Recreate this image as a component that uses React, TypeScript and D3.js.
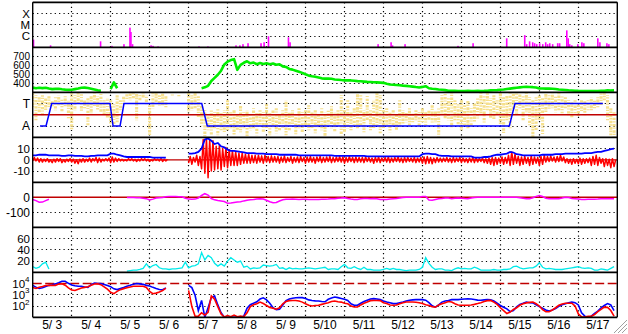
import React from "react";
import * as d3 from "d3";

const N = null;
const SLOT_HOURS = 2;
const TOTAL_HOURS = 360;

const dayLabels = ["5/ 3", "5/ 4", "5/ 5", "5/ 6", "5/ 7", "5/ 8", "5/ 9", "5/10", "5/11", "5/12", "5/13", "5/14", "5/15", "5/16", "5/17"];

// Panel 1: X-ray flare peaks (hours from 5/3 00:00, flux W/m2)
const flareHours = [0.5, 11.0, 41.8, 48.8, 56.2, 59.9, 60.5, 61.5, 72.9, 74.1, 77.2, 102.4, 107.9, 125.2, 127.6, 129.5, 132.6, 140.6, 142.5, 145.2, 157.5, 158.5, 212.7, 220.7, 221.6, 229.3, 261.9, 271.2, 291.9, 303.0, 304.2, 306.0, 307.9, 309.1, 310.4, 312.2, 314.1, 315.9, 317.1, 318.4, 320.2, 323.3, 324.5, 328.9, 329.8, 330.7, 332.0, 335.7, 338.2, 339.4, 348.0, 349.3, 353.6, 354.8];
const flareFlux = [4.8e-7, 1.5e-7, 3.4e-7, 1.35e-7, 1.9e-7, 5.6e-6, 2.3e-6, 1.9e-7, 1.5e-7, 1.35e-7, 1.2e-7, 1.2e-7, 1.2e-7, 1.5e-7, 1.5e-7, 1.9e-7, 2.3e-7, 2.3e-7, 2.8e-7, 9.5e-7, 7.8e-7, 2.8e-7, 1.9e-7, 2.8e-7, 1.5e-7, 1.9e-7, 1.35e-7, 2.3e-7, 6.3e-7, 1.2e-6, 1.9e-7, 3.4e-7, 2.8e-7, 2.3e-7, 1.9e-7, 2.3e-7, 1.9e-7, 2.8e-7, 1.9e-7, 2.3e-7, 1.9e-7, 2.3e-7, 2.3e-7, 3.2e-6, 6.3e-7, 1.9e-7, 1.5e-7, 1.9e-7, 2.8e-7, 2.3e-7, 6.3e-7, 2.8e-7, 2.3e-7, 1.9e-7];
const xrayTickLabels = ["X", "M", "C"];
const xrayTickValues = [1e-4, 1e-5, 1e-6];

// Panel 2: solar wind speed (km/s), 2-hour slots
const windSpeed = [
  352, 345, 350, 346, 351, 342, 335, 338, 340, 334,
  330, 327, 328, 335, 342, 350, 352, 348, 340, 332,
  322, 318, N, N, 335, 410, 345, N, N, N,
  N, N, N, N, N, N, N, N, N, N,
  N, N, N, N, N, N, N, N, N, N,
  N, N, 345, 355, 372, 425, 460, 495, 540, 610,
  640, 658, 668, 550, 605, 628, 645, 622, 630, 612,
  625, 614, 622, 612, 620, 606, 612, 588, 582, 560,
  552, 540, 528, 516, 500, 485, 478, 473, 465, 455,
  452, 452, 450, 443, 440, 436, 433, 433, 432, 428,
  424, 422, 419, 416, 415, 412, 410, 408, 405, 395,
  386, 384, 381, 378, 374, 371, 367, 363, 358, 354,
  360, 368, 345, 340, 336, 331, 328, 324, 318, 316,
  316, 315, 315, 315, 316, 315, 315, 316, 315, 316,
  318, 321, 322, 324, 328, 331, 336, 341, 346, 351,
  355, 359, 360, 359, 357, 353, 343, 342, 341, 341,
  340, 336, 331, 329, 326, 322, 320, 318, 316, 315,
  315, 314, 315, 315, 315, 317, 318, 321, 320, 321,
];
const speedTicks = [700, 600, 500, 400];

// Panel 3: IMF angle spread (deg, lo/hi per slot) and sector polarity
const imfAngleLo = [
  8, 24, 40, 24, 48, 32, 64, 40, 24, 56,
  32, 64, 8, 24, 0, 16, 64, 48, 24, 0,
  32, 8, 64, 48, 64, 96, 24, 64, 32, 16,
  0, 8, 0, 16, 0, 24, 104, 8, 8, 24,
  8, 32, N, 16, N, 16, N, N, 8, 24,
  8, 32, 104, 144, 184, 144, 160, 128, 168, 144,
  64, 160, 144, 184, 104, 160, 144, 176, 128, 160,
  144, 160, 96, 168, 144, 128, 176, 144, 64, 160,
  144, 168, 128, 160, 144, 104, 160, 144, 168, 128,
  160, 144, 112, 160, 144, 24, 144, 64, 160, 128,
  8, 24, 144, 24, 144, 64, 8, 24, 144, 128,
  160, 144, 168, 64, 144, 160, 128, 168, 144, 160,
  128, 160, 144, 104, 144, 128, 24, 8, 48, 8,
  64, 96, 64, 104, 64, 128, 80, 48, 8, 24,
  8, 48, 24, 64, 8, 40, 24, 8, 0, 8,
  0, 24, 0, 40, 64, 40, 24, 48, 8, 24,
  8, 32, 8, 24, 40, 64, 80, 64, 96, 64,
  64, 64, 40, 64, 40, 0, 8, 24, 128, 160,
];
const imfAngleHi = [
  120, 224, 160, 184, 144, 128, 112, 144, 104, 160,
  112, 208, 304, 144, 96, 160, 128, 264, 168, 112,
  144, 160, 184, 208, 264, 288, 240, 144, 96, 64,
  64, 48, 224, 64, 48, 104, 344, 128, 96, 112,
  104, 128, N, 40, N, 40, N, N, 160, 144,
  128, 200, 264, 360, 304, 344, 288, 344, 304, 328,
  304, 288, 344, 304, 320, 288, 352, 304, 288, 344,
  272, 320, 288, 344, 280, 328, 304, 288, 344, 304,
  272, 336, 288, 320, 264, 304, 288, 328, 280, 304,
  352, 272, 288, 320, 264, 344, 320, 288, 304, 272,
  288, 264, 320, 224, 304, 288, 264, 328, 288, 272,
  320, 264, 304, 288, 256, 240, 264, 248, 224, 272,
  240, 264, 224, 256, 240, 360, 184, 208, 224, 280,
  224, 264, 304, 264, 288, 272, 240, 224, 184, 248,
  144, 208, 224, 184, 264, 328, 224, 288, 144, 184,
  128, 224, 160, 264, 360, 304, 224, 344, 168, 144,
  128, 160, 144, 168, 128, 184, 200, 168, 200, 160,
  184, 144, 144, 128, 120, 104, 64, 224, 344, 360,
];
const sectorHours = [4.5, 8.2, 11.7, 47.6, 49.5, 53.8, 56.2, 104.1, 107.5, 293.5, 297.0, 351.1];
const sectorPolarity = [-1, -1, 1, 1, -1, -1, 1, 1, -1, -1, 1, 1];
const sectorTickLabels = ["T", "A"];
const sectorTickAngles = [90, 270];

// Panel 4: IMF Bt (blue) and Bz range (red), nT
const imfBt = [
  4, 4, 4.5, 4.5, 4.5, 4, 4, 4, 4, 3.5,
  3.5, 4, 4, 3.5, 3.5, 3.5, 3, 3, 3.5, 3.5,
  4, 4, 4, 4, 5.5, 5.5, 4.5, 4, 3, 2.5,
  2.5, 2.5, 2.5, 2.5, 2.5, 2.5, 2.5, 2, 2, 2,
  2, 2, N, N, N, N, N, N, 5.5, 5.5,
  6, 7, 10, 18, 19, 17, 14, 15, 12, 11,
  9, 8, 8, 7.5, 7, 6.5, 6, 6, 6, 5.5,
  5.5, 5.5, 5, 5, 5, 5, 4.5, 4.5, 4.5, 4.5,
  4.5, 4.5, 4, 4, 4, 4, 4, 4, 4, 4,
  4, 4, 4, 3.5, 3.5, 3.5, 3.5, 3.5, 3.5, 3.5,
  3.5, 3.5, 3.5, 3, 3, 3, 3, 3, 3, 3,
  3, 3, 3, 3, 3, 3, 3, 3, 3, 3,
  5, 5.5, 5.5, 5, 5, 4, 3.5, 3.5, 3.5, 3,
  3, 3, 3, 3, 3, 3, 2, 2, 2, 2.5,
  2.5, 3, 4, 4.5, 4.5, 5, 5.5, 7, 6.5, 5,
  4.5, 4, 4, 4, 4, 4, 4, 4.5, 4.5, 4.5,
  4.5, 5, 5, 5, 5.5, 5.5, 5.5, 5.5, 5.5, 5.5,
  6, 6, 6, 6.5, 7, 7, 8, 8.5, 9.5, 10,
];
const imfBzLo = [
  -1, -1, -2, -2, -1.5, -2, -2.5, -2, -1.5, -2.5,
  -2, -1.5, -2, -3, -3.5, -2, -2, -1.5, -2, -1,
  -2.5, -2, -1, -1, -2.5, -2, -1.5, -1, -1, -1,
  -0.5, -1, -1.5, -1, -0.5, -1, -1.5, -1, -0.5, -1,
  -1.5, -1, N, N, N, N, N, N, -3, -4,
  -2, -5, -8, -12, -16, -10, -9, -8, -9, -6,
  -7, -5, -5, -5, -4, -3, -3, -3, -2.5, -3,
  -2, -3, -2, -2.5, -2, -2, -3, -2, -2.5, -1.5,
  -3, -2, -2.5, -1.5, -3, -2, -2, -3, -1.5, -2.5,
  -2, -1.5, -2.5, -2, -1.5, -2, -3, -2, -1.5, -2.5,
  -2, -2, -2.5, -1.5, -2, -3, -2, -2.5, -1.5, -2,
  -2.5, -2, -1.5, -2, -2.5, -2, -1.5, -2, -2.5, -2,
  -3, -3.5, -3, -3.5, -2.5, -2, -2, -1.5, -2, -2.5,
  -2, -1.5, -2.5, -2, -2.5, -2, -2.5, -2, -1.5, -2.5,
  -3, -4, -5, -4, -3, -4, -3, -5, -4, -3,
  -5, -4, -3, -5, -4, -3, -5, -4, -2, -1.5,
  -1, -2, -1.5, -1, -2.5, -3, -4, -3, -3.5, -4,
  -3, -2.5, -5, -4, -5, -3, -6, -5, -7, -6,
];
const imfBzHi = [
  2, 1.5, 1, 0.5, 1, 0, 0.5, 1, 1, 0,
  0.5, 1, 0.5, 0, 0.5, 1, 0.5, 1.5, 1, 2,
  1.5, 0.5, 1, 1.5, 2.5, 1.5, 1, 0.5, 0, 1,
  1, 0.5, 0.5, 1, 1, 0.5, 0, 1, 0.5, 1,
  0.5, 0.5, N, N, N, N, N, N, 3, 2,
  4, 3, 18, 19, 18, 17, 12, 13, 10, 11,
  9, 8, 7, 6, 6, 5, 5, 4, 4, 4,
  3.5, 4, 3, 3.5, 3, 3, 2.5, 3.5, 2, 3,
  2, 2.5, 3, 2, 2.5, 3, 2, 2.5, 3, 2,
  2.5, 3, 2, 2.5, 3, 2.5, 2, 3, 2, 2.5,
  2, 2, 2.5, 2, 1.5, 2, 2.5, 1.5, 2, 2.5,
  1.5, 2, 2.5, 1.5, 2, 2, 1.5, 2, 1.5, 2,
  2.5, 3, 2, 1.5, 2, 1.5, 1.5, 2, 1.5, 2,
  1.5, 2, 1.5, 1, 1.5, 2, 1.5, 1, 1.5, 1,
  1.5, 2, 2, 1.5, 2.5, 2, 4, 7, 5, 3,
  2.5, 3, 2, 3.5, 2.5, 2, 3, 4, 3, 3.5,
  2.5, 3, 4, 2.5, 1, 0.5, 1, 0.5, 1.5, 1,
  1, 1.5, 3, 4, 2, 1, 1, 0.5, 1, 0,
];
const bzTicks = [10, 0, -10];

// Panel 5: Dst (nT)
const dstIndex = [
  -15, -22, -33, -32, -22, -13, N, N, N, N,
  N, N, N, N, N, N, N, N, N, N,
  N, N, N, N, N, N, N, N, N, -2,
  -2, -2, -3, -3, -6, -9, -18, -12, -5, -3,
  -2, 3, 6, 6, 5, 4, 3, -6, -12, -13,
  -12, -5, 12, 24, 15, -8, -17, -21, -24, -28,
  -40, -38, -34, -32, -30, -24, -19, -17, -15, -12,
  -9, -12, -20, -30, -36, -35, -25, -17, -13, -13,
  -12, -13, -14, -13, -13, -14, -15, -15, -14, -13,
  -13, -12, -10, -9, -6, -5, -3, -8, -12, -14,
  -14, -10, -8, -8, -9, -8, -10, -14, -15, -15,
  -12, -9, -8, -5, -2, 0, 0, 0, 0, 1,
  5, 6, -18, -20, -15, -10, -8, -5, -5, -9,
  -6, -4, -6, -8, -9, -5, -1, 0, 1, 1,
  1, 0, 1, 0, 1, 0, 0, 0, 0, 0,
  -3, -6, -9, -10, -3, 6, 12, 5, -6, -10,
  -10, -10, -9, -5, 0, -2, -8, -10, -12, -15,
  -14, -13, -13, -13, -12, -10, -9, -10, -9, -9,
];
const dstTicks = [0, -100];

// Panel 6: proton density (/cc)
const density = [
  10, 7, 9, 15, 18, 6, N, N, N, N,
  N, N, N, N, N, N, N, N, N, N,
  N, N, N, N, N, N, N, N, N, 2,
  3, 4, 4, 5, 7, 15, 8, 12, 14, 8,
  6, 6, 5, 6, 6, 7, 8, 18, 8, 11,
  12, 15, 35, 22, 30, 26, 16, 11, 15, 11,
  20, 26, 22, 18, 20, 9, 11, 6, 8, 7,
  8, 13, 12, 11, 12, 14, 7, 8, 5, 8,
  6, 7, 6, 6, 7, 8, 7, 6, 7, 8,
  9, 5, 6, 6, 5, 10, 14, 8, 7, 10,
  7, 5, 9, 5, 5, 4, 4, 4, 5, 7,
  5, 7, 5, 5, 4, 3, 4, 4, 4, 5,
  9, 26, 16, 9, 5, 6, 6, 4, 4, 3,
  6, 8, 6, 7, 6, 6, 9, 7, 4, 4,
  4, 4, 5, 4, 4, 5, 5, 6, 10, 11,
  8, 6, 7, 8, 8, 11, 17, 9, 6, 7,
  6, 5, 5, 5, 6, 7, 8, 9, 10, 8,
  7, 8, 7, 4, 4, 6, 5, 4, 7, 10,
];
const densityTicks = [60, 40, 20];

// Panel 7: electron flux, log10 (blue / red)
const electronLogBlue = [
  3.84, 3.68, 3.56, 3.62, 3.74, 3.84, 3.9, 3.97, 4.08, 4.2,
  4.2, 4.02, 3.88, 3.8, 3.76, 3.76, 3.7, 3.66, 3.9, 4.05,
  4.0, 4.0, 3.92, 3.82, 3.72, 3.53, 3.46, 3.55, 3.64, 3.76,
  3.84, 3.93, 4.0, 3.97, 3.93, 3.84, 3.78, 3.66, 3.56, 3.47,
  3.45, 3.6, N, N, N, N, N, N, 3.84, 3.64,
  2.96, 1.6, 2.5, 1.0, 1.85, 2.75, 2.9, 2.1, 1.4, 1.0,
  1.0, 1.0, 1.0, 1.0, 1.0, 1.1, 1.8, 2.12, 2.25, 2.38,
  2.62, 2.73, 2.55, 2.25, 1.85, 1.68, 1.72, 2.1, 2.48, 2.62,
  2.7, 2.74, 2.75, 2.75, 2.68, 2.55, 2.5, 2.46, 2.45, 2.4,
  2.38, 2.6, 2.72, 2.8, 2.75, 2.68, 2.6, 2.5, 2.2, 2.07,
  2.07, 2.25, 2.4, 2.52, 2.63, 2.66, 2.62, 2.57, 2.45, 2.36,
  2.3, 2.22, 2.22, 2.3, 2.36, 2.45, 2.51, 2.55, 2.57, 2.57,
  2.57, 2.52, 2.3, 2.02, 1.9, 2.1, 2.35, 2.45, 2.5, 2.57,
  2.57, 2.57, 2.6, 2.62, 2.64, 2.62, 2.58, 2.53, 2.52, 2.55,
  2.57, 2.56, 2.45, 2.25, 2.05, 1.9, 1.75, 1.5, 1.6, 1.92,
  2.15, 2.25, 2.36, 2.3, 2.28, 2.12, 1.95, 1.8, 1.65, 1.55,
  1.65, 1.78, 1.98, 2.12, 2.2, 2.3, 2.35, 2.3, 2.1, 1.4,
  1.1, 1.0, 1.1, 1.35, 1.55, 1.85, 2.05, 2.22, 2.1, 1.6,
];
const electronLogRed = [
  3.64, 3.56, 3.68, 3.74, 3.82, 3.84, 3.84, 3.84, 3.95, 3.98,
  3.85, 3.62, 3.42, 3.38, 3.5, 3.6, 3.66, 3.72, 3.85, 3.96,
  3.98, 3.9, 3.7, 3.5, 3.22, 3.1, 3.3, 3.46, 3.55, 3.63,
  3.7, 3.76, 3.76, 3.76, 3.76, 3.66, 3.3, 3.1, 3.15, 3.25,
  3.38, 3.6, N, N, N, N, N, N, 3.4, 1.95,
  1.1, 1.1, 1.4, 1.2, 1.45, 2.9, 2.6, 1.95, 1.3, 1.02,
  1.15, 1.05, 1.2, 1.05, 1.1, 1.05, 1.4, 1.95, 2.12, 2.2,
  2.35, 2.22, 2.05, 1.88, 1.8, 1.72, 1.85, 2.2, 2.4, 2.48,
  2.5, 2.5, 2.45, 2.35, 2.2, 2.07, 2.0, 2.05, 2.07, 2.15,
  2.22, 2.3, 2.4, 2.45, 2.38, 2.35, 2.25, 2.2, 2.0, 1.92,
  1.92, 2.1, 2.25, 2.36, 2.48, 2.5, 2.5, 2.48, 2.3, 2.22,
  2.1, 2.07, 2.1, 2.2, 2.3, 2.36, 2.36, 2.36, 2.34, 2.3,
  2.22, 2.12, 2.05, 1.95, 1.9, 2.1, 2.2, 2.3, 2.4, 2.36,
  2.2, 2.1, 2.07, 2.07, 2.07, 2.1, 2.15, 2.22, 2.3, 2.4,
  2.48, 2.5, 2.35, 2.15, 1.85, 1.6, 1.33, 1.47, 1.7, 1.85,
  2.07, 2.2, 2.28, 2.33, 2.36, 2.2, 2.0, 1.68, 1.5, 1.5,
  1.65, 1.85, 2.07, 2.18, 2.25, 2.25, 2.25, 2.0, 1.3, 1.05,
  1.03, 1.08, 1.1, 1.25, 1.5, 1.7, 1.9, 1.88, 1.6, 1.1,
];
const electronTickExps = [4, 3, 2];
const electronRefExp = 4;

const FONT = "'Liberation Sans', Arial, Helvetica, sans-serif";
const C = {
  magenta: "#ff00ff",
  green: "#00ee00",
  yellow: "#f6e08c",
  blue: "#0000ff",
  red: "#ff0000",
  darkRed: "#c00000",
  cyan: "#00eaea",
};

export default function App() {
  const W = 628, H = 334;
  const left = 32.7, right = 617.3;
  const top0 = 2.3, ph = 45;
  const pt = (k: number) => top0 + ph * k;
  const x = d3.scaleLinear().domain([0, TOTAL_HOURS]).range([left, right]);
  const sx = (i: number) => x(i * SLOT_HOURS);
  const idx = d3.range(windSpeed.length);

  const yX = d3.scaleLog().domain([1e-7, 1e-3]).range([pt(1), pt(0)]);
  const yV = d3.scaleLinear().domain([300, 800]).range([pt(2), pt(1)]);
  const yA = d3.scaleLinear().domain([0, 360]).range([pt(2), pt(3)]);
  const ySector = d3.scaleLinear().domain([1, -1]).range([yA(90), yA(270)]);
  const yB = d3.scaleLinear().domain([-20, 20]).range([pt(4), pt(3)]);
  const yD = d3.scaleLinear().domain([-200, 100]).range([pt(5), pt(4)]);
  const yN = d3.scaleLinear().domain([0, 80]).range([pt(6), pt(5)]);
  const yE = d3.scaleLinear().domain([1, 5]).range([pt(7), pt(6)]);

  const lineOf = (arr: (number | null)[], y: (v: number) => number) =>
    d3.line<number>().defined((i) => arr[i] != null).x(sx).y((i) => y(arr[i] as number))(idx) || "";

  // Bz: min and max of each slot drawn as a jagged trace (lo at slot start, hi at mid-slot)
  const bzPts: { h: number; v: number | null }[] = [];
  idx.forEach((i) => {
    bzPts.push({ h: i * SLOT_HOURS, v: imfBzLo[i] });
    bzPts.push({ h: i * SLOT_HOURS + SLOT_HOURS / 2, v: imfBzHi[i] });
  });
  const bzPath = d3.line<{ h: number; v: number | null }>()
    .defined((p) => p.v != null)
    .x((p) => x(p.h))
    .y((p) => yB(p.v as number))(bzPts) || "";

  const sectorPath = d3.line<number>()
    .x((j) => x(sectorHours[j]))
    .y((j) => ySector(sectorPolarity[j]))(d3.range(sectorHours.length)) || "";

  const crisp = (v: number) => Math.floor(v) + 0.5;
  const dayBounds = d3.range(1, dayLabels.length).map((d) => crisp(x(d * 24)));

  const dotted = { stroke: "#000", strokeWidth: 1.2, strokeDasharray: "1.2,3.2" };

  const hGrid: number[] = [
    ...xrayTickValues.map((v) => yX(v)),
    ...speedTicks.map((v) => yV(v)),
    ...sectorTickAngles.map((v) => yA(v)),
    ...bzTicks.filter((v) => v !== 0).map((v) => yB(v)),
    ...dstTicks.filter((v) => v !== 0).map((v) => yD(v)),
    ...densityTicks.map((v) => yN(v)),
    ...electronTickExps.filter((v) => v !== electronRefExp).map((v) => yE(v)),
  ];

  const labels: { t: string; y: number; fs: number }[] = [
    ...xrayTickLabels.map((t, i) => ({ t, y: yX(xrayTickValues[i]), fs: 11.5 })),
    ...speedTicks.map((v) => ({ t: String(v), y: yV(v), fs: 10 })),
    ...sectorTickLabels.map((t, i) => ({ t, y: yA(sectorTickAngles[i]), fs: 12 })),
    ...bzTicks.map((v) => ({ t: String(v), y: yB(v), fs: 11.5 })),
    ...dstTicks.map((v) => ({ t: String(v), y: yD(v), fs: 12 })),
    ...densityTicks.map((v) => ({ t: String(v), y: yN(v), fs: 11.5 })),
  ];

  const clip = (k: number) => `url(#panel${k})`;

  return (
    <svg
      width={W}
      height={H}
      viewBox={`0 0 ${W} ${H}`}
      style={{ position: "absolute", left: 0, top: 0, background: "#fff" }}
      fontFamily={FONT}
    >
      <defs>
        {d3.range(7).map((k) => (
          <clipPath id={`panel${k}`} key={k}>
            <rect x={left} y={pt(k)} width={right - left} height={ph} />
          </clipPath>
        ))}
      </defs>
      <rect x={0} y={0} width={W} height={H} fill="#fff" />

      {/* grid */}
      {hGrid.map((y, i) => (
        <line key={`hg${i}`} x1={left} x2={right} y1={crisp(y)} y2={crisp(y)} {...dotted} />
      ))}
      {dayBounds.map((xx, i) => (
        <line key={`vg${i}`} x1={xx} x2={xx} y1={pt(0)} y2={pt(7)} {...dotted} />
      ))}

      {/* panel 1: X-ray */}
      <g clipPath={clip(0)}>
        {flareHours.map((h, i) => (
          <rect key={`f${i}`} x={x(h) - 0.8} width={1.6} y={yX(flareFlux[i])} height={pt(1) - yX(flareFlux[i])} fill={C.magenta} />
        ))}
      </g>

      {/* panel 2: speed */}
      <g clipPath={clip(1)}>
        <path d={lineOf(windSpeed, yV)} fill="none" stroke={C.green} strokeWidth={2.6} strokeLinejoin="round" />
      </g>

      {/* panel 3: IMF angle + sector */}
      <g clipPath={clip(2)}>
        {idx.filter((i) => imfAngleLo[i] != null).map((i) => (
          <line
            key={`ya${i}`}
            x1={sx(i)}
            x2={sx(i)}
            y1={yA(imfAngleLo[i] as number)}
            y2={yA(imfAngleHi[i] as number)}
            stroke={C.yellow}
            strokeWidth={3.1}
            strokeDasharray={i % 2 ? "2.4,1.1,1.2,1.6" : "1.6,1.3,2.6,0.9"}
            strokeDashoffset={(i * 1.7) % 4.1}
          />
        ))}
        <line x1={left} x2={right} y1={yA(180)} y2={yA(180)} stroke={C.darkRed} strokeWidth={1.5} />
        <path d={sectorPath} fill="none" stroke={C.blue} strokeWidth={1.5} />
      </g>

      {/* panel 4: Bt/Bz */}
      <g clipPath={clip(3)}>
        <line x1={left} x2={right} y1={yB(0)} y2={yB(0)} stroke={C.darkRed} strokeWidth={1.3} />
        <path d={bzPath} fill="none" stroke={C.red} strokeWidth={1.5} strokeLinejoin="round" />
        <path d={lineOf(imfBt, yB)} fill="none" stroke={C.blue} strokeWidth={1.8} />
      </g>

      {/* panel 5: Dst */}
      <g clipPath={clip(4)}>
        <line x1={left} x2={right} y1={yD(0)} y2={yD(0)} stroke={C.darkRed} strokeWidth={1.5} />
        <path d={lineOf(dstIndex, yD)} fill="none" stroke={C.magenta} strokeWidth={1.5} />
      </g>

      {/* panel 6: density */}
      <g clipPath={clip(5)}>
        <path d={lineOf(density, yN)} fill="none" stroke={C.cyan} strokeWidth={1.3} />
      </g>

      {/* panel 7: electrons */}
      <g clipPath={clip(6)}>
        <line x1={left} x2={right} y1={yE(electronRefExp)} y2={yE(electronRefExp)} stroke={C.darkRed} strokeWidth={1.4} strokeDasharray="9,3.5" />
        <path d={lineOf(electronLogBlue, yE)} fill="none" stroke={C.blue} strokeWidth={1.6} />
        <path d={lineOf(electronLogRed, yE)} fill="none" stroke={C.red} strokeWidth={1.6} />
      </g>

      {/* panel frames */}
      {d3.range(8).map((k) => (
        <line key={`sep${k}`} x1={left} x2={right} y1={pt(k)} y2={pt(k)} stroke="#000" strokeWidth={1.7} />
      ))}
      <line x1={left} x2={left} y1={pt(0)} y2={pt(7)} stroke="#000" strokeWidth={1.4} />
      <line x1={right} x2={right} y1={pt(0)} y2={pt(7)} stroke="#000" strokeWidth={1.4} />

      {/* y tick labels */}
      {labels.map((l, i) => (
        <text key={`yl${i}`} x={30} y={l.y + l.fs * 0.35} textAnchor="end" fontSize={l.fs} fill="#000">
          {l.t}
        </text>
      ))}
      {electronTickExps.map((e) => (
        <text key={`el${e}`} x={29.5} y={yE(e) + 4} textAnchor="end" fontSize={11.5} fill="#000">
          10<tspan dy={-5.5} fontSize={8}>{e}</tspan>
        </text>
      ))}

      {/* x labels */}
      {dayLabels.map((t, d) => (
        <text key={`xl${d}`} x={x(d * 24 + 12)} y={328.5} textAnchor="middle" fontSize={12} fill="#000" style={{ whiteSpace: "pre" }}>
          {t}
        </text>
      ))}

      {/* window resize grip */}
      <g stroke="#a0a0a0" strokeWidth={1}>
        <line x1={614} y1={333} x2={627} y2={320} />
        <line x1={618} y1={333} x2={627} y2={324} />
        <line x1={622} y1={333} x2={627} y2={328} />
      </g>
    </svg>
  );
}
